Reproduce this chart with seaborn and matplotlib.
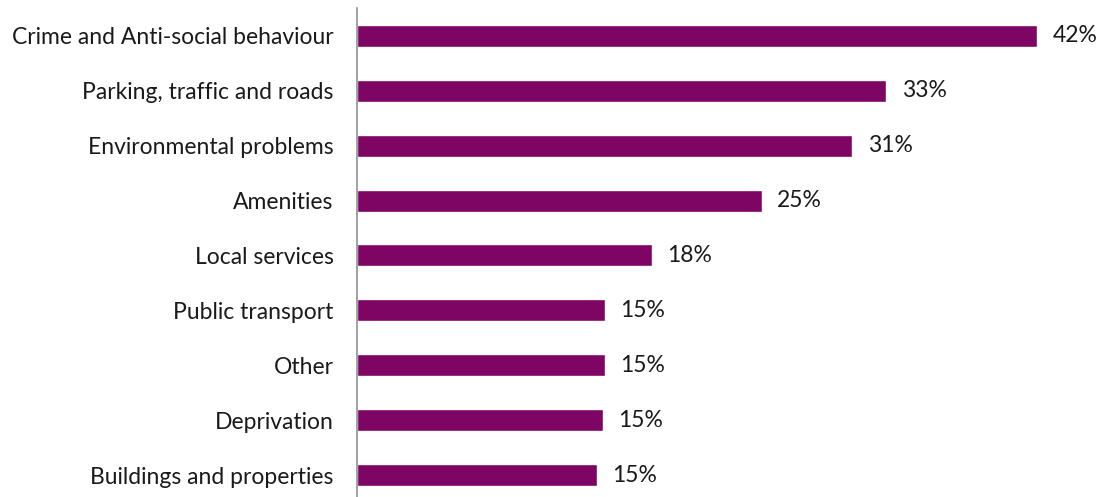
import matplotlib
matplotlib.use("Agg")
import matplotlib.pyplot as plt
import seaborn as sns
import pandas as pd

categories = [
    "Crime and Anti-social behaviour",
    "Parking, traffic and roads",
    "Environmental problems",
    "Amenities",
    "Local services",
    "Public transport",
    "Other",
    "Deprivation",
    "Buildings and properties",
]
values = [42.0, 32.7, 30.6, 25.0, 18.2, 15.3, 15.3, 15.2, 14.8]

df = pd.DataFrame({"category": categories, "value": values})

sns.set_theme(style="white")
plt.rcParams["font.family"] = ["Lato", "DejaVu Sans"]

fig = plt.figure(figsize=(11.02, 4.97), dpi=100)
ax = fig.add_axes([0.324, -0.011, 0.661, 0.994])

sns.barplot(data=df, x="value", y="category", color="#7F0565",
            width=0.4, saturation=1, ax=ax, orient="h")

ax.set_xlim(0, 45)
ax.set_ylim(8.5, -0.5)
ax.set_xlabel("")
ax.set_ylabel("")
ax.set_xticks([])
for side in ["top", "right", "bottom"]:
    ax.spines[side].set_visible(False)
ax.spines["left"].set_color("#868686")
ax.spines["left"].set_linewidth(1.1)
ax.tick_params(axis="y", length=0, pad=17, labelsize=16.5, labelcolor="#1a1a1a")

for i, v in enumerate(values):
    ax.text(v + 0.95, i, f"{v:.0f}%", va="center", ha="left",
            fontsize=16.5, color="#1a1a1a")

fig.savefig("out.png", dpi=100)
